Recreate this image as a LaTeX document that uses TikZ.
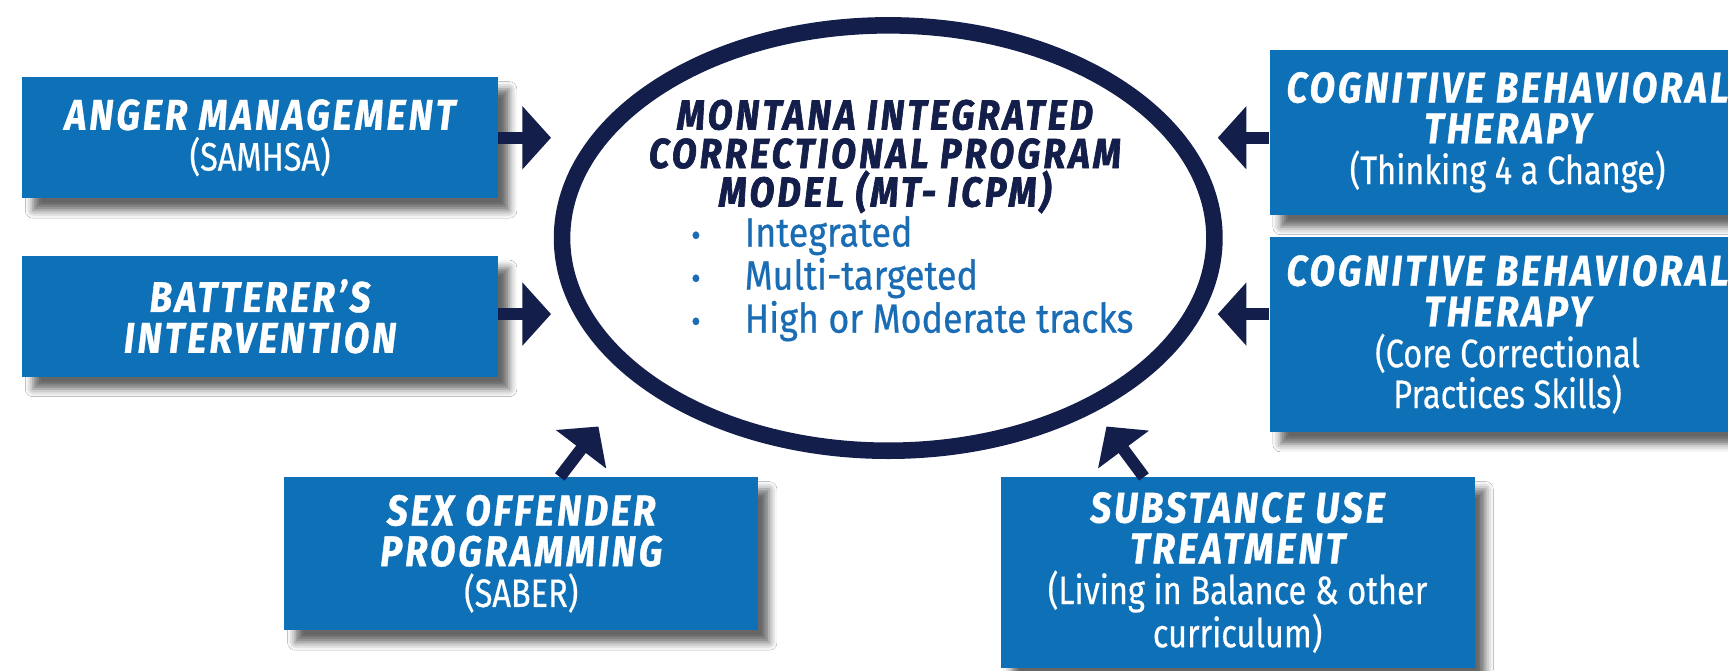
\documentclass[tikz,border=0pt]{standalone}
\usepackage{fontspec}
\setmainfont{Fira Sans}
\newfontfamily\titlefont[FakeStretch=0.86,LetterSpace=7,FakeBold=0.8]{Fira Sans}
\newfontfamily\elltitlefont[FakeStretch=0.86,LetterSpace=8,FakeBold=1.6]{Fira Sans}
\newfontfamily\subfont[FakeStretch=0.82,FakeBold=0.5]{Fira Sans}
\newfontfamily\bulfont[FakeStretch=0.88,FakeBold=0.6]{Fira Sans}
\usetikzlibrary{shapes.geometric,arrows.meta,shadows.blur}
\definecolor{boxblue}{HTML}{0E70B7}
\definecolor{navy}{HTML}{131E4A}
\definecolor{txtblue}{HTML}{1A6DB4}
\newcommand{\ttl}[1]{{\titlefont\bfseries\itshape\fontsize{39}{37}\selectfont #1}}
\newcommand{\ettl}[1]{{\elltitlefont\bfseries\itshape\fontsize{38}{35}\selectfont #1}}
\newcommand{\sbt}[1]{{\subfont\fontsize{36}{37}\selectfont #1}}
\begin{document}
\begin{tikzpicture}[x=1pt,y=-1pt,
  pbox/.style={fill=boxblue, draw=none, inner sep=0pt, align=center, text=white,
    minimum width=432pt, font=\fontsize{36}{37}\selectfont,
    blur shadow={shadow xshift=10pt, shadow yshift=-11pt, shadow blur radius=7pt, shadow opacity=60}},
  arr/.style={line width=11pt, draw=navy, -{Triangle[length=26pt,width=56pt]}},
]
\clip (0,0) rectangle (1568,608);
\fill[white] (0,0) rectangle (1568,608);

% boxes
\node[pbox, minimum height=110pt] (anger) at (236,125)
  {\ttl{ANGER MANAGEMENT}\\\sbt{(SAMHSA)}};
\node[pbox, minimum height=110pt] (batt) at (236,287)
  {\ttl{BATTERER’S}\\\ttl{INTERVENTION}};
\node[pbox, minimum height=150pt] (cbt1) at (1368,120)
  {\ttl{COGNITIVE BEHAVIORAL}\\\ttl{THERAPY}\\\sbt{(Thinking 4 a Change)}};
\node[pbox, minimum height=177pt] (cbt2) at (1368,303.5)
  {\ttl{COGNITIVE BEHAVIORAL}\\\ttl{THERAPY}\\\sbt{(Core Correctional}\\\sbt{Practices Skills)}};
\node[pbox, minimum width=430pt, minimum height=139pt] (sex) at (473,502.5)
  {\ttl{SEX OFFENDER}\\\ttl{PROGRAMMING}\\\sbt{(SABER)}};
\node[pbox, minimum width=430pt, minimum height=173pt] (subst) at (1123,519.5)
  {\ttl{SUBSTANCE USE}\\\ttl{TREATMENT}\\\sbt{(Living in Balance \& other}\\\sbt{curriculum)}};

% central ellipse
\node[ellipse, draw=navy, line width=15pt, fill=white, minimum width=592pt,
  minimum height=386pt, inner sep=0pt] (ell) at (806,216) {};
\node[align=center, text=navy, inner sep=0pt, font=\fontsize{38}{35}\selectfont] (elltitle) at (803,142)
  {\ettl{MONTANA INTEGRATED}\\\ettl{CORRECTIONAL PROGRAM}\\\ettl{MODEL (MT- ICPM)}};
\node[anchor=west, text=txtblue, inner sep=0pt, font=\bulfont\fontsize{37}{34}\selectfont] (bullets) at (627,254)
  {\begin{tabular}{@{}l@{\hspace{40pt}}l@{}}
   {\fontsize{30}{34}\selectfont\textbullet} & Integrated\\
   {\fontsize{30}{34}\selectfont\textbullet} & Multi-targeted\\
   {\fontsize{30}{34}\selectfont\textbullet} & High or Moderate tracks
   \end{tabular}};

% arrow tips
\coordinate (tA) at (500,125);
\coordinate (tB) at (500,285);
\coordinate (tC) at (1105,125);
\coordinate (tD) at (1105,285);
\coordinate (tE) at (543,387);
\coordinate (tF) at (1004,387);
\coordinate (sE) at (508,433);
\coordinate (sF) at (1038,433);

\draw[arr] (anger.east |- tA) -- (tA);
\draw[arr] (batt.east |- tB) -- (tB);
\draw[arr] (cbt1.west |- tC) -- (tC);
\draw[arr] (cbt2.west |- tD) -- (tD);
\draw[arr] (sex.north -| sE) -- (tE);
\draw[arr] (subst.north -| sF) -- (tF);
\end{tikzpicture}
\end{document}
